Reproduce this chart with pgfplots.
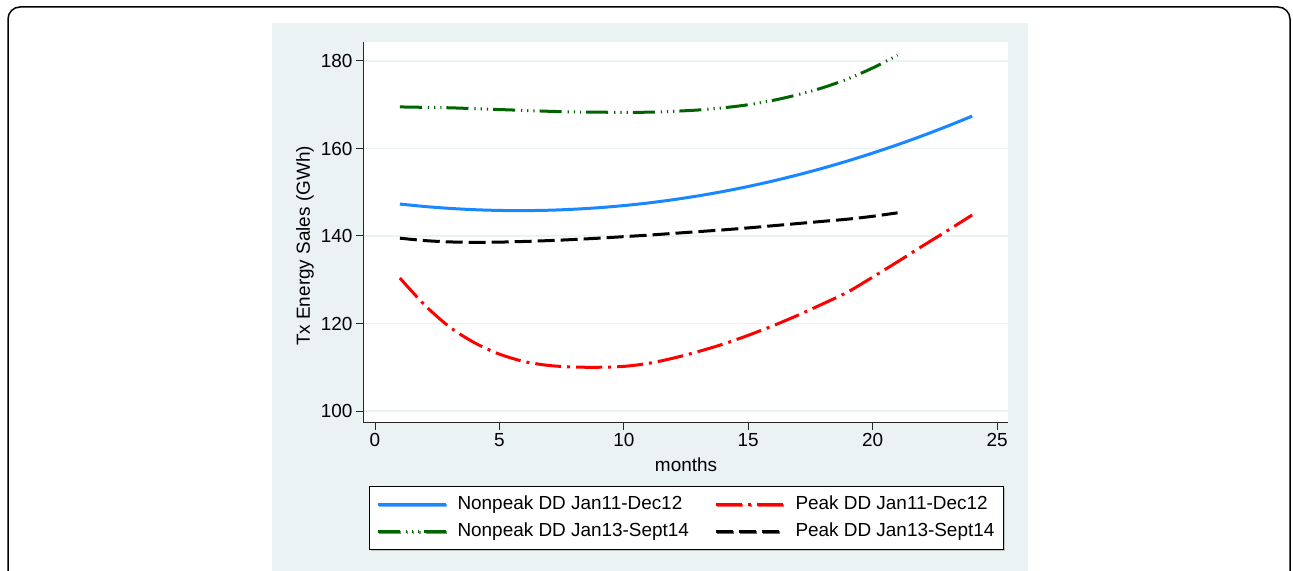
\documentclass[border=0pt]{standalone}
\usepackage{fontspec}
\setmainfont{Liberation Sans}
\usepackage{pgfplots}
\pgfplotsset{compat=1.18}
\usetikzlibrary{shadows}
\definecolor{panel}{RGB}{234,242,243}
\definecolor{lineblue}{RGB}{25,135,255}
\definecolor{dkgreen}{RGB}{0,100,0}
\newcommand{\chartfont}{\fontsize{19}{22}\selectfont}
\begin{document}
\begin{tikzpicture}[x=1bp,y=1bp]
\path[use as bounding box] (0,0) rectangle (1293,571);
\fill[white] (0,0) rectangle (1293,571);
\draw[line width=1.5bp, rounded corners=12bp] (8,-40) -- (8,564) -- (1290,564) -- (1290,-40);
\fill[panel] (272,-5) rectangle (1028,548.3);
\begin{axis}[
  at={(363bp,148bp)}, anchor=south west,
  width=645bp, height=381bp, scale only axis,
  xmin=-0.482, xmax=25.44, ymin=97.26, ymax=184.34,
  axis x line*=bottom, axis y line*=left,
  axis line style={line width=1bp, black!85, -},
  xtick={0,5,...,25}, ytick={100,120,...,180},
  tick align=outside, major tick length=7bp,
  tick style={line width=1bp, black!85},
  minor tick num=0,
  ymajorgrids, grid style={line width=1.5bp, panel},
  axis background/.style={fill=white},
  tick label style={font=\chartfont},
  /pgf/number format/assume math mode=true,
  every axis y label/.style={at={(axis description cs:-0.0822,0.4646)}, rotate=90, anchor=base},
  every axis x label/.style={at={(axis description cs:0.5008,-0.126)}, anchor=base},
  label style={font=\chartfont},
  xlabel={months},
  ylabel={Tx Energy Sales (GWh)},
  legend columns=2,
  legend cell align=left,
  legend image code/.code={\draw[#1] (0bp,0bp) -- (68bp,0bp);},
  legend style={at={(axis description cs:0.00853,-0.16535)}, anchor=north west,
    draw=black, line width=1bp, fill=white,
    drop shadow={shadow xshift=1.5bp, shadow yshift=-1.5bp, fill=black!35, opacity=0.6},
    inner xsep=7bp, inner ysep=8bp, font=\chartfont, row sep=7bp,
    nodes={inner sep=0pt, text height=15bp, text depth=5bp},
    /tikz/every odd column/.append style={column sep=10.5bp},
    /tikz/every even column/.append style={column sep=10.5bp}},
]
\addplot[lineblue, line width=3bp, smooth] coordinates {
(1,147.30) (2,146.74) (3,146.31) (4,146.01) (5,145.84) (6,145.80) (7,145.89) (8,146.12)
(9,146.47) (10,146.95) (11,147.56) (12,148.31) (13,149.18) (14,150.18) (15,151.32) (16,152.58)
(17,153.98) (18,155.50) (19,157.16) (20,158.95) (21,160.86) (22,162.91) (23,165.09) (24,167.40)};
\addlegendentry{\makebox[246bp][l]{Nonpeak DD Jan11-Dec12}}
\addplot[red, line width=3bp, smooth, dash pattern=on 26bp off 6bp on 3bp off 6bp] coordinates {
(1,130.4) (2,124.2) (3,119.2) (4,115.6) (5,113.0) (6,111.3) (7,110.4) (8,110.05)
(9,110.0) (10,110.2) (11,110.9) (12,112.1) (13,113.6) (14,115.3) (15,117.3) (16,119.5)
(17,121.9) (18,124.5) (19,127.2) (20,130.6) (21,134.1) (22,137.7) (23,141.2) (24,144.8)};
\addlegendentry{\makebox[200.5bp][l]{Peak DD Jan11-Dec12}}
\addplot[dkgreen, line width=3bp, smooth, dash pattern=on 22bp off 6bp on 1.2bp off 5bp on 1.2bp off 5bp on 1.2bp off 5bp] coordinates {
(1,169.5) (2,169.4) (3,169.3) (4,169.1) (5,168.9) (6,168.7) (7,168.5) (8,168.35)
(9,168.3) (10,168.25) (11,168.3) (12,168.5) (13,168.8) (14,169.3) (15,170.0) (16,171.0)
(17,172.3) (18,173.9) (19,175.9) (20,178.4) (21,181.3)};
\addlegendentry{\makebox[246bp][l]{Nonpeak DD Jan13-Sept14}}
\addplot[black, line width=3bp, smooth, dash pattern=on 17bp off 6bp] coordinates {
(1,139.5) (2,138.95) (3,138.65) (4,138.55) (5,138.6) (6,138.75) (7,138.95) (8,139.2)
(9,139.5) (10,139.85) (11,140.2) (12,140.6) (13,141.0) (14,141.4) (15,141.85) (16,142.35)
(17,142.85) (18,143.35) (19,143.85) (20,144.5) (21,145.3)};
\addlegendentry{\makebox[200.5bp][l]{Peak DD Jan13-Sept14}}
\end{axis}
\end{tikzpicture}
\end{document}
